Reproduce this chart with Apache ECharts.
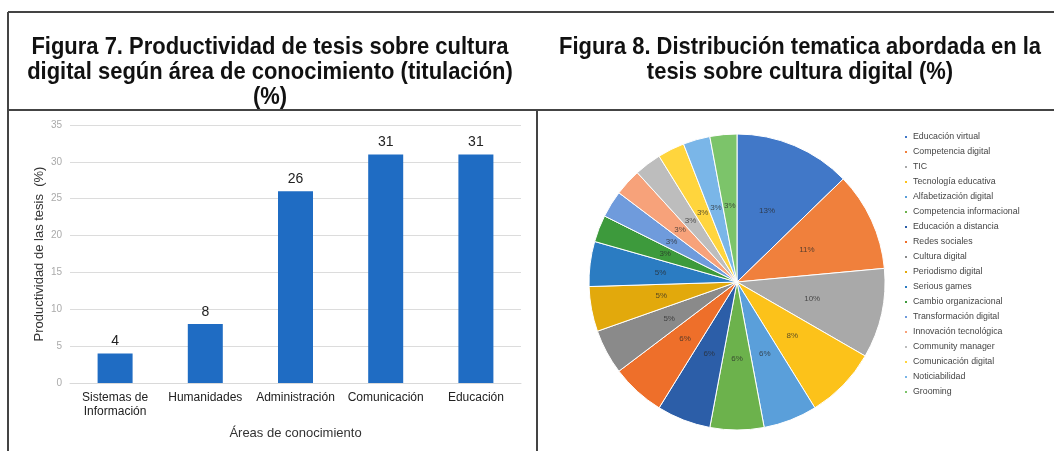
<!DOCTYPE html>
<html>
<head>
<meta charset="utf-8">
<title>Figura 7 y Figura 8</title>
<script src="https://cdn.jsdelivr.net/npm/echarts@6/dist/echarts.min.js"></script>
<style>
  html, body { margin: 0; padding: 0; background: #fff; }
  #chart { width: 1054px; height: 451px; }
</style>
</head>
<body>
<div id="chart"></div>
<script>
// Figura 7 - productividad por área
const areas = ['Sistemas de\nInformación', 'Humanidades', 'Administración', 'Comunicación', 'Educación'];
const productividad = [4, 8, 26, 31, 31];
const yTicks = { min: 0, max: 35, interval: 5 };

// Figura 8 - distribución temática
const temas = [
  'Educación virtual', 'Competencia digital', 'TIC', 'Tecnología educativa',
  'Alfabetización digital', 'Competencia informacional', 'Educación a distancia',
  'Redes sociales', 'Cultura digital', 'Periodismo digital', 'Serious games',
  'Cambio organizacional', 'Transformación digital', 'Innovación tecnológica',
  'Community manager', 'Comunicación digital', 'Noticiabilidad', 'Grooming'
];
const porcentajes = [13, 11, 10, 8, 6, 6, 6, 6, 5, 5, 5, 3, 3, 3, 3, 3, 3, 3];

const titulo7 = 'Figura 7. Productividad de tesis sobre cultura\ndigital según área de conocimiento (titulación)\n(%)';
const titulo8 = 'Figura 8. Distribución tematica abordada en la\ntesis sobre cultura digital (%)';

const sliceColors = [
  '#4178c8', '#f0803c', '#a9a9a9', '#fcc21a', '#5a9fda', '#6cb24c',
  '#2c5ea8', '#ee6f2a', '#8a8a8a', '#e2a90c', '#2b7cc2', '#3d9a3c',
  '#6f9bdc', '#f7a27a', '#bdbdbd', '#ffd53d', '#7ab6e8', '#7cc46a'
];

const lineColor = '#444';
const font = 'Liberation Sans';

const chart = echarts.init(document.getElementById('chart'));

// titles are squeezed a bit horizontally, like the narrow font of the original
const titleText = (text, x) => ({
  type: 'text', x: x, y: 35, scaleX: 0.915,
  style: {
    text: text, font: 'bold 24px "Liberation Sans", Arial, sans-serif',
    fill: '#111', textAlign: 'center', textVerticalAlign: 'top', lineHeight: 25
  }
});

const option = {
  backgroundColor: '#fff',
  animation: false,
  graphic: [
    titleText(titulo7, 270),
    titleText(titulo8, 800),
    { type: 'line', shape: { x1: 8, y1: 12, x2: 1054, y2: 12 }, style: { stroke: lineColor, lineWidth: 2 } },
    { type: 'line', shape: { x1: 8, y1: 12, x2: 8, y2: 451 }, style: { stroke: lineColor, lineWidth: 2 } },
    { type: 'line', shape: { x1: 8, y1: 110, x2: 1054, y2: 110 }, style: { stroke: lineColor, lineWidth: 2 } },
    { type: 'line', shape: { x1: 537, y1: 110, x2: 537, y2: 451 }, style: { stroke: lineColor, lineWidth: 2 } }
  ],
  grid: { left: 70, right: 533, top: 125, bottom: 68 },
  xAxis: {
    type: 'category',
    data: areas,
    name: 'Áreas de conocimiento',
    nameLocation: 'middle',
    nameGap: 44,
    nameTextStyle: { fontFamily: font, fontSize: 13, color: '#333' },
    axisLine: { lineStyle: { color: '#d9d9d9' } },
    axisTick: { show: false },
    axisLabel: { fontFamily: font, fontSize: 12, color: '#222', margin: 8, lineHeight: 14, interval: 0 }
  },
  yAxis: {
    type: 'value',
    min: yTicks.min, max: yTicks.max, interval: yTicks.interval,
    name: 'Productividad de las tesis  (%)',
    nameLocation: 'middle',
    nameGap: 24,
    nameTextStyle: { fontFamily: font, fontSize: 13, color: '#333' },
    axisLine: { show: false },
    axisTick: { show: false },
    axisLabel: { fontFamily: font, fontSize: 10, color: '#aaa', margin: 8 },
    splitLine: { lineStyle: { color: '#dcdcdc' } }
  },
  legend: {
    orient: 'vertical',
    left: 898, top: 127,
    icon: 'rect',
    itemWidth: 4, itemHeight: 4,
    itemGap: 5,
    data: temas,
    textStyle: { fontFamily: font, fontSize: 8.8, color: '#444', lineHeight: 10 }
  },
  series: [
    {
      name: 'Productividad',
      type: 'bar',
      data: productividad,
      barWidth: 35,
      itemStyle: { color: '#1f6cc3' },
      label: { show: true, position: 'top', fontFamily: font, fontSize: 14, color: '#222' }
    },
    {
      name: 'Temas',
      type: 'pie',
      center: [737, 282],
      radius: 148,
      startAngle: 90,
      clockwise: true,
      data: temas.map((t, i) => ({ name: t, value: porcentajes[i] })),
      color: sliceColors,
      itemStyle: { borderColor: '#fff', borderWidth: 1 },
      label: {
        show: true, position: 'inside',
        formatter: p => p.value + '%',
        fontFamily: font, fontSize: 8, color: 'rgba(40,40,40,0.75)'
      },
      labelLine: { show: false }
    }
  ]
};

chart.setOption(option);
</script>
</body>
</html>
